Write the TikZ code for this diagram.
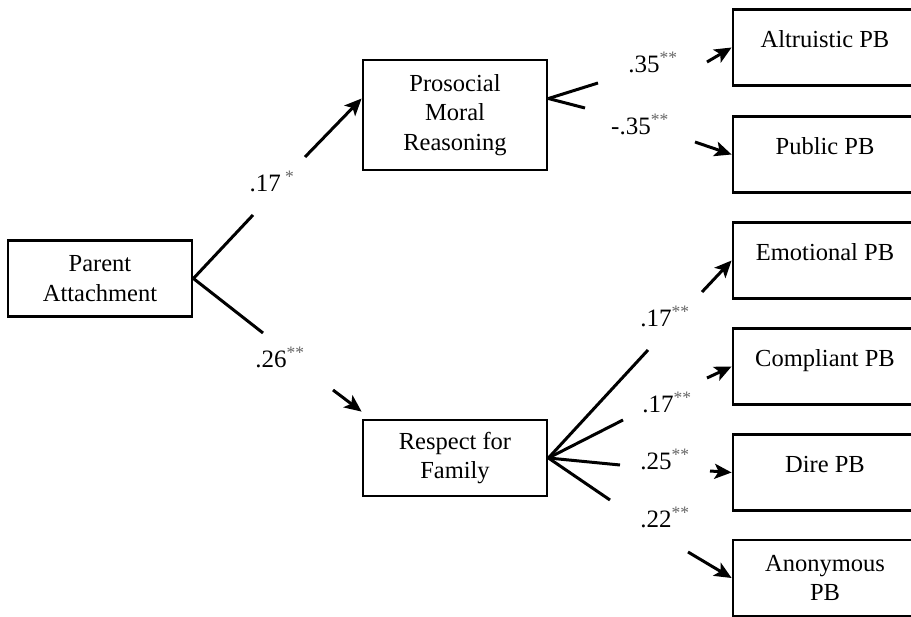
\documentclass[tikz,border=0pt]{standalone}
\usepackage{fontspec}
\setmainfont{Liberation Serif}
\usetikzlibrary{arrows.meta,calc}
\newcommand{\sigmark}[1]{\textsuperscript{\color{black!60}#1}}

\begin{document}
\begin{tikzpicture}[x=1pt,y=-1pt,
	box/.style={draw,line width=2.8pt,minimum width=184pt,minimum height=76pt,inner sep=0pt,align=center,font=\fontsize{24.5}{29.5}\selectfont},
	outbox/.style={box,text depth=16pt},
	link/.style={line width=3pt},
	arr/.style={link,-{Stealth[length=17pt,width=15pt,inset=4pt]}},
	coef/.style={font=\fontsize{25}{30}\selectfont,anchor=base,inner sep=0pt}]
	\useasboundingbox (0,0) rectangle (911,617);
	\clip (0,0) rectangle (911,617);
	\node[box] (par) at (100,278.5) {Parent\\Attachment};
	\node[box,minimum height=110pt] (pmr) at (455,115) {Prosocial\\Moral\\Reasoning};
	\node[box] (rfam) at (455,458) {Respect for\\Family};
	\foreach \n/\y/\t in {alt/47.5/Altruistic PB,pub/154.5/Public PB,emo/260.5/Emotional PB,com/366.5/Compliant PB,dire/472.5/Dire PB}
	{
		\node[outbox] (\n) at (825,\y) {\t};
	}
	\node[box] (anon) at (825,578) {Anonymous\\PB};
	\coordinate (pa1) at (253,215);
	\coordinate (pa2) at (305,157);
	\coordinate (pb1) at (263,333);
	\coordinate (pb2) at (333,390);
	\draw[link] (par.east) -- (pa1);
	\draw[arr] (pa2) -- (pmr.170);
	\draw[link] (par.east) -- (pb1);
	\draw[arr] (pb2) -- ($(rfam.north west)+(0,-7)$);
	\node[coef] (cpa) at (272,192) {.17\,\sigmark{*}};
	\node[coef] (cpb) at (280,368) {.26\sigmark{**}};
	\coordinate (ma1) at (598,83);
	\coordinate (ma2) at (707,62);
	\coordinate (mb1) at (585,108);
	\coordinate (mb2) at (695,142);
	\draw[link] (pmr.10) -- (ma1);
	\draw[arr] (ma2) -- (alt.west);
	\draw[link] (pmr.10) -- (mb1);
	\draw[arr] (mb2) -- (pub.west);
	\node[coef] (cma) at (653,73) {.35\sigmark{**}};
	\node[coef] (cmb) at (640,135) {-.35\sigmark{**}};
	\coordinate (fa1) at (648,350);
	\coordinate (fa2) at (702,292);
	\coordinate (fb1) at (623,420);
	\coordinate (fb2) at (707,378);
	\coordinate (fc1) at (620,465);
	\coordinate (fc2) at (710,471);
	\coordinate (fd1) at (610,500);
	\coordinate (fd2) at (688,552);
	\draw[link] (rfam.east) -- (fa1);
	\draw[arr] (fa2) -- (emo.west);
	\draw[link] (rfam.east) -- (fb1);
	\draw[arr] (fb2) -- (com.west);
	\draw[link] (rfam.east) -- (fc1);
	\draw[arr] (fc2) -- (dire.west);
	\draw[link] (rfam.east) -- (fd1);
	\draw[arr] (fd2) -- (anon.west);
	\node[coef] (cfa) at (665,327) {.17\sigmark{**}};
	\node[coef] (cfb) at (667,413) {.17\sigmark{**}};
	\node[coef] (cfc) at (665,470) {.25\sigmark{**}};
	\node[coef] (cfd) at (665,528) {.22\sigmark{**}};
\end{tikzpicture}
\end{document}
